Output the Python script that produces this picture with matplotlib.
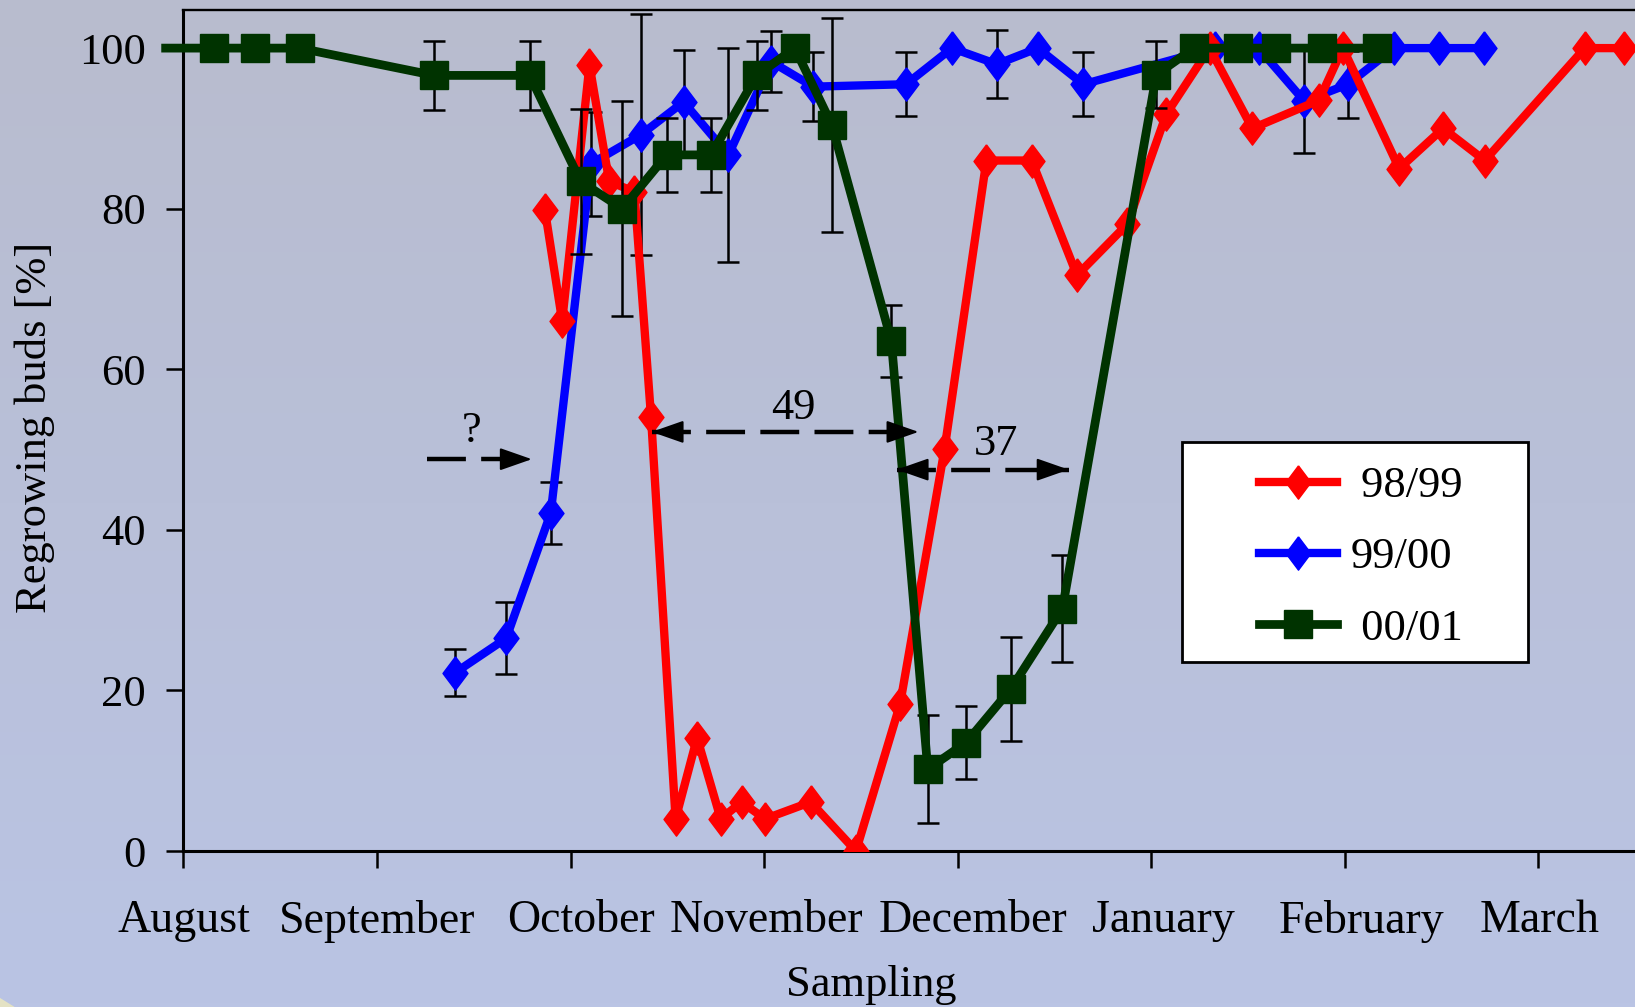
import numpy as np
import matplotlib
matplotlib.use('Agg')
from matplotlib import pyplot as plt
from matplotlib.patches import Rectangle, Polygon

# x positions are in months counted from 1 August
months = ['August', 'September', 'October', 'November', 'December',
          'January', 'February', 'March']
# small shifts of the month names relative to their ticks (in months)
month_shift = [0.0, 0.0, 0.054, 0.011, 0.081, 0.065, 0.086, 0.005]

# season 98/99
x_9899 = [1.868, 1.957, 2.098, 2.200, 2.330, 2.416, 2.543, 2.654, 2.776, 2.884,
          3.005, 3.241, 3.475, 3.703, 3.933, 4.149, 4.383, 4.617, 4.878, 5.079,
          5.302, 5.523, 5.867, 5.991, 6.282, 6.509, 6.724, 7.241, 7.441]
y_9899 = [79.8, 66.0, 97.9, 83.4, 82.1, 54.1, 4.0, 14.1, 4.0, 6.1,
          4.0, 6.1, 0.0, 18.3, 50.1, 86.0, 86.0, 71.7, 78.1, 91.8,
          100, 90.0, 93.5, 100, 85.0, 90.0, 86.0, 100, 100]

# season 99/00
x_9900 = [1.403, 1.668, 1.898, 2.106, 2.363, 2.584, 2.816, 3.038, 3.254, 3.734,
          3.971, 4.203, 4.415, 4.650, 5.329, 5.555, 5.792, 6.018, 6.255, 6.487,
          6.719]
y_9900 = [22.2, 26.5, 42.1, 85.6, 89.2, 93.3, 86.7, 98.3, 95.2, 95.5,
          100, 98.0, 100, 95.5, 100, 100, 93.4, 95.5, 100, 100,
          100]
err_9900 = [2.9, 4.5, 3.8, 6.5, 15.0, 6.5, 13.3, 3.8, 4.3, 4.0,
            0, 4.2, 0, 4.0, 0, 0, 6.5, 4.2, 0, 0,
            0]

# season 00/01 (first value sits just before 1 August)
x_0001 = [-0.092, 0.159, 0.371, 0.600, 1.295, 1.789, 2.052, 2.268, 2.497, 2.726,
          2.962, 3.159, 3.351, 3.658, 3.846, 4.044, 4.276, 4.542, 5.027, 5.221,
          5.447, 5.647, 5.884, 6.169]
y_0001 = [100, 100, 100, 100, 96.6, 96.6, 83.4, 80.0, 86.7, 86.7,
          96.6, 100, 90.4, 63.5, 10.2, 13.5, 20.2, 30.2, 96.7, 100,
          100, 100, 100, 100]
err_0001 = [0, 0, 0, 0, 4.3, 4.3, 9.0, 13.4, 4.6, 4.6,
            4.3, 0, 13.3, 4.5, 6.7, 4.5, 6.5, 6.7, 4.2, 0,
            0, 0, 0, 0]

plt.rcParams['font.family'] = ['Liberation Serif', 'DejaVu Serif']
plt.rcParams['lines.scale_dashes'] = False
FS = 32

fig = plt.figure(figsize=(16.35, 10.07), dpi=100)

# bluish grey backdrop, slightly darker at the top
bg = fig.add_axes([0, 0, 1, 1], zorder=0)
top = np.array([184, 188, 206]) / 255
bottom = np.array([186, 196, 228]) / 255
t = np.linspace(0, 1, 256)[:, None]
grad = top + (bottom - top) * t
bg.imshow(grad[:, None, :], aspect='auto', extent=[0, 1, 0, 1])
bg.add_patch(Polygon([[0, 0], [0.009, 0], [0, 0.009]], closed=True,
                     color='#e4e2c4', lw=0))
bg.set_xlim(0, 1)
bg.set_ylim(0, 1)
bg.axis('off')

ax = fig.add_axes([0.1122, 0.1549, 0.8996, 0.8348], zorder=1)
ax.set_facecolor('none')

diamond = [(0, 1), (0.75, 0), (0, -1), (-0.75, 0), (0, 1)]


def error_bars(x, y, err, z):
    x, y, err = map(np.asarray, (x, y, err))
    has = err > 0
    ax.errorbar(x[has], y[has], yerr=err[has], fmt='none', ecolor='black',
                elinewidth=1.8, capsize=8, capthick=1.8, zorder=z)


error_bars(x_9900, y_9900, err_9900, 2)
l_blue, = ax.plot(x_9900, y_9900, color='#0000ff', lw=6, marker=diamond,
                  ms=24, zorder=3)
l_red, = ax.plot(x_9899, y_9899, color='#ff0000', lw=6, marker=diamond,
                 ms=24, zorder=4)
error_bars(x_0001, y_0001, err_0001, 4.5)
l_green, = ax.plot(x_0001, y_0001, color='#003300', lw=6.3, marker='s', ms=20,
                   markevery=list(range(1, len(x_0001))), clip_on=False,
                   zorder=5)

# month ticks, with the names on unmarked minor ticks
ax.xaxis.remove_overlapping_locs = False
ax.set_xticks(range(len(months)))
ax.set_xticklabels([])
ax.set_xticks([i + s for i, s in enumerate(month_shift)], minor=True)
ax.set_xticklabels(months, minor=True)
ax.tick_params(axis='x', which='minor', length=0, labelsize=33, pad=35)
ax.set_yticks(range(0, 101, 20))
ax.tick_params(which='major', direction='out', length=12, width=1.8,
               labelsize=FS)
ax.tick_params(axis='y', pad=15)
ax.set_xlim(0, 7.6)
ax.set_ylim(0, 104.7)
for side in ['left', 'bottom']:
    ax.spines[side].set_linewidth(2.2)
ax.spines['top'].set_linewidth(1.7)
ax.spines['right'].set_visible(False)


def dashed_arrow(x0, x1, y, both):
    ax.plot([x0, x1], [y, y], color='black', lw=3.2, dashes=(28, 11),
            solid_capstyle='butt', dash_capstyle='butt', zorder=6)
    head = 0.14
    ends = [(x1, x1 - head)]
    if both:
        ends.append((x0, x0 + head))
    for tip, base in ends:
        ax.annotate('', xy=(tip, y), xytext=(base, y),
                    arrowprops=dict(arrowstyle='-|>,head_length=1.0,head_width=0.35',
                                    color='black', lw=1.5, mutation_scale=20,
                                    shrinkA=0, shrinkB=0),
                    zorder=6)


dashed_arrow(1.258, 1.800, 48.8, False)
dashed_arrow(2.419, 3.798, 52.2, True)
dashed_arrow(3.685, 4.574, 47.5, True)
ax.text(1.487, 50.9, '?', ha='center', va='baseline', fontsize=FS, zorder=6)
ax.text(3.149, 53.8, '49', ha='center', va='baseline', fontsize=FS, zorder=6)
ax.text(4.200, 49.3, '37', ha='center', va='baseline', fontsize=FS, zorder=6)

ax.add_patch(Rectangle((0.6789, 0.2248), 0.2352, 0.2617, transform=ax.transAxes,
                       facecolor='white', edgecolor='black', lw=2, zorder=7))
leg = ax.legend([l_red, l_blue, l_green], [' 98/99', '99/00', ' 00/01'],
                loc='upper left', bbox_to_anchor=(0.7315, 0.458), frameon=False,
                fontsize=FS, handlelength=1.75, handletextpad=0.3,
                labelspacing=0.7, borderpad=0, borderaxespad=0)
leg.set_zorder(8)

fig.text(34.5 / 1635, 1 - 427.5 / 1007, 'Regrowing buds [%]', rotation=90,
         ha='center', va='center', fontsize=FS)
fig.text(871 / 1635, 1 - 996 / 1007, 'Sampling', ha='center', va='baseline',
         fontsize=FS)

fig.savefig('out.png', dpi=100)
